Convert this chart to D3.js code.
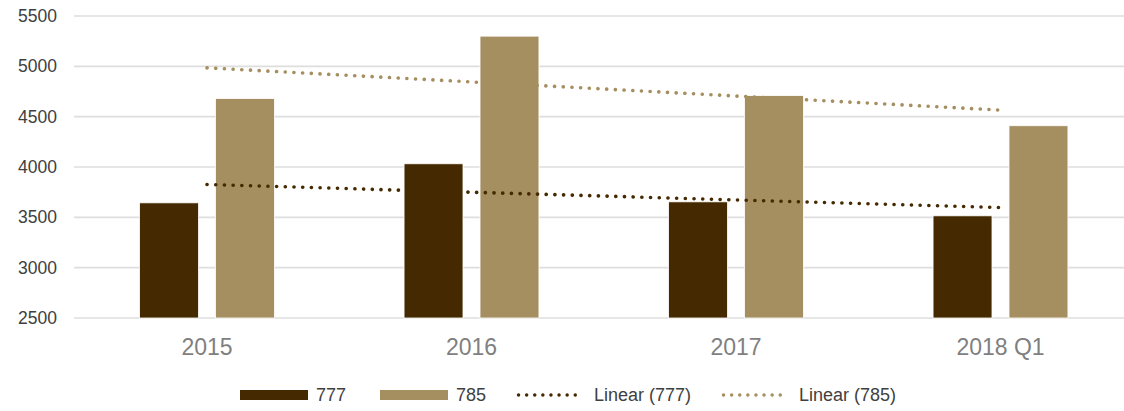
<!DOCTYPE html>
<html>
<head>
<meta charset="utf-8">
<script src="https://cdn.jsdelivr.net/npm/d3@7"></script>
<style>
  body { margin: 0; background: #fff; }
  svg { display: block; font-family: "Liberation Sans", Arial, sans-serif; }
</style>
</head>
<body>
<div id="chart"></div>
<script>
// Chart size
const width = 1124,
      height = 411;

// Data
const categories = ["2015", "2016", "2017", "2018 Q1"];
const seriesNames = ["777", "785"];
const values777 = [3644, 4032, 3654, 3515];
const values785 = [4680, 5300, 4710, 4410];
const yTicks = [2500, 3000, 3500, 4000, 4500, 5000, 5500];

const colors = { "777": "#452a01", "785": "#a58f60" };

const svg = d3.select("#chart").append("svg")
    .attr("width", width)
    .attr("height", height);

// Scales
const x0 = d3.scaleBand()
    .domain(categories)
    .range([74.75, 1132.75])
    .paddingInner(0.49)
    .paddingOuter(0.245);

const x1 = d3.scaleBand()
    .domain(seriesNames)
    .range([0, x0.bandwidth()])
    .paddingInner(0.224);

const y = d3.scaleLinear()
    .domain([2500, 5500])
    .range([318, 16]);

// Gridlines
svg.append("g")
    .selectAll("line")
    .data(yTicks)
    .enter().append("line")
    .attr("x1", 74)
    .attr("x2", width)
    .attr("y1", d => y(d))
    .attr("y2", d => y(d))
    .style("stroke", "#dedede")
    .style("stroke-width", 1.6);

// Y axis labels
svg.append("g")
    .selectAll("text")
    .data(yTicks)
    .enter().append("text")
    .attr("x", 57)
    .attr("y", d => y(d))
    .attr("dy", "0.35em")
    .attr("text-anchor", "end")
    .style("font-size", "17.5px")
    .style("fill", "#404040")
    .text(d => d);

// Bars
const rows = categories.map((c, i) => ({ cat: c, "777": values777[i], "785": values785[i] }));

const groups = svg.append("g")
    .selectAll("g")
    .data(rows)
    .enter().append("g")
    .attr("transform", d => `translate(${x0(d.cat)},0)`);

groups.selectAll("rect")
    .data(d => seriesNames.map(s => ({ key: s, value: d[s] })))
    .enter().append("rect")
    .attr("x", d => x1(d.key))
    .attr("y", d => y(d.value))
    .attr("width", x1.bandwidth())
    .attr("height", d => y(2500) - y(d.value))
    .style("fill", d => colors[d.key])
    .style("stroke", "#ffffff")
    .style("stroke-width", 0.8);

// Linear trend lines (least squares over the category index)
function trend(vals) {
    const n = vals.length;
    const xs = d3.range(1, n + 1);
    const mx = d3.mean(xs), my = d3.mean(vals);
    const slope = d3.sum(xs, (xv, i) => (xv - mx) * (vals[i] - my)) / d3.sum(xs, xv => (xv - mx) * (xv - mx));
    return [1, n].map(xv => [xv, my + slope * (xv - mx)]);
}

const catCenter = i => x0(categories[i - 1]) + x0.bandwidth() / 2;

[["777", values777], ["785", values785]].forEach(([key, vals]) => {
    const pts = trend(vals);
    svg.append("path")
        .attr("d", d3.line().x(p => catCenter(p[0])).y(p => y(p[1]))(pts))
        .style("fill", "none")
        .style("stroke", colors[key])
        .style("stroke-width", 3.6)
        .style("stroke-linecap", "round")
        .style("stroke-dasharray", "0.1 8.6");
});

// X axis labels
svg.append("g")
    .selectAll("text")
    .data(categories)
    .enter().append("text")
    .attr("x", d => x0(d) + x0.bandwidth() / 2)
    .attr("y", 355)
    .attr("text-anchor", "middle")
    .style("font-size", "23px")
    .style("fill", "#7f7f7f")
    .text(d => d);

// Legend
const legendItems = [
    { label: "777", type: "rect", color: colors["777"], x: 240 },
    { label: "785", type: "rect", color: colors["785"], x: 380 },
    { label: "Linear (777)", type: "dots", color: colors["777"], x: 517 },
    { label: "Linear (785)", type: "dots", color: colors["785"], x: 722 }
];
const legendY = 395;

const legend = svg.append("g").attr("class", "legend");

legendItems.forEach(item => {
    if (item.type === "rect") {
        legend.append("rect")
            .attr("x", item.x)
            .attr("y", legendY - 5)
            .attr("width", 68)
            .attr("height", 10)
            .style("fill", item.color);
    } else {
        legend.append("line")
            .attr("x1", item.x + 1.5)
            .attr("x2", item.x + 66)
            .attr("y1", legendY)
            .attr("y2", legendY)
            .style("stroke", item.color)
            .style("stroke-width", 3.4)
            .style("stroke-linecap", "round")
            .style("stroke-dasharray", "0.1 8");
    }
    legend.append("text")
        .attr("x", item.type === "rect" ? item.x + 76 : item.x + 77)
        .attr("y", legendY)
        .attr("dy", "0.35em")
        .style("font-size", "18px")
        .style("fill", "#404040")
        .text(item.label);
});
</script>
</body>
</html>
